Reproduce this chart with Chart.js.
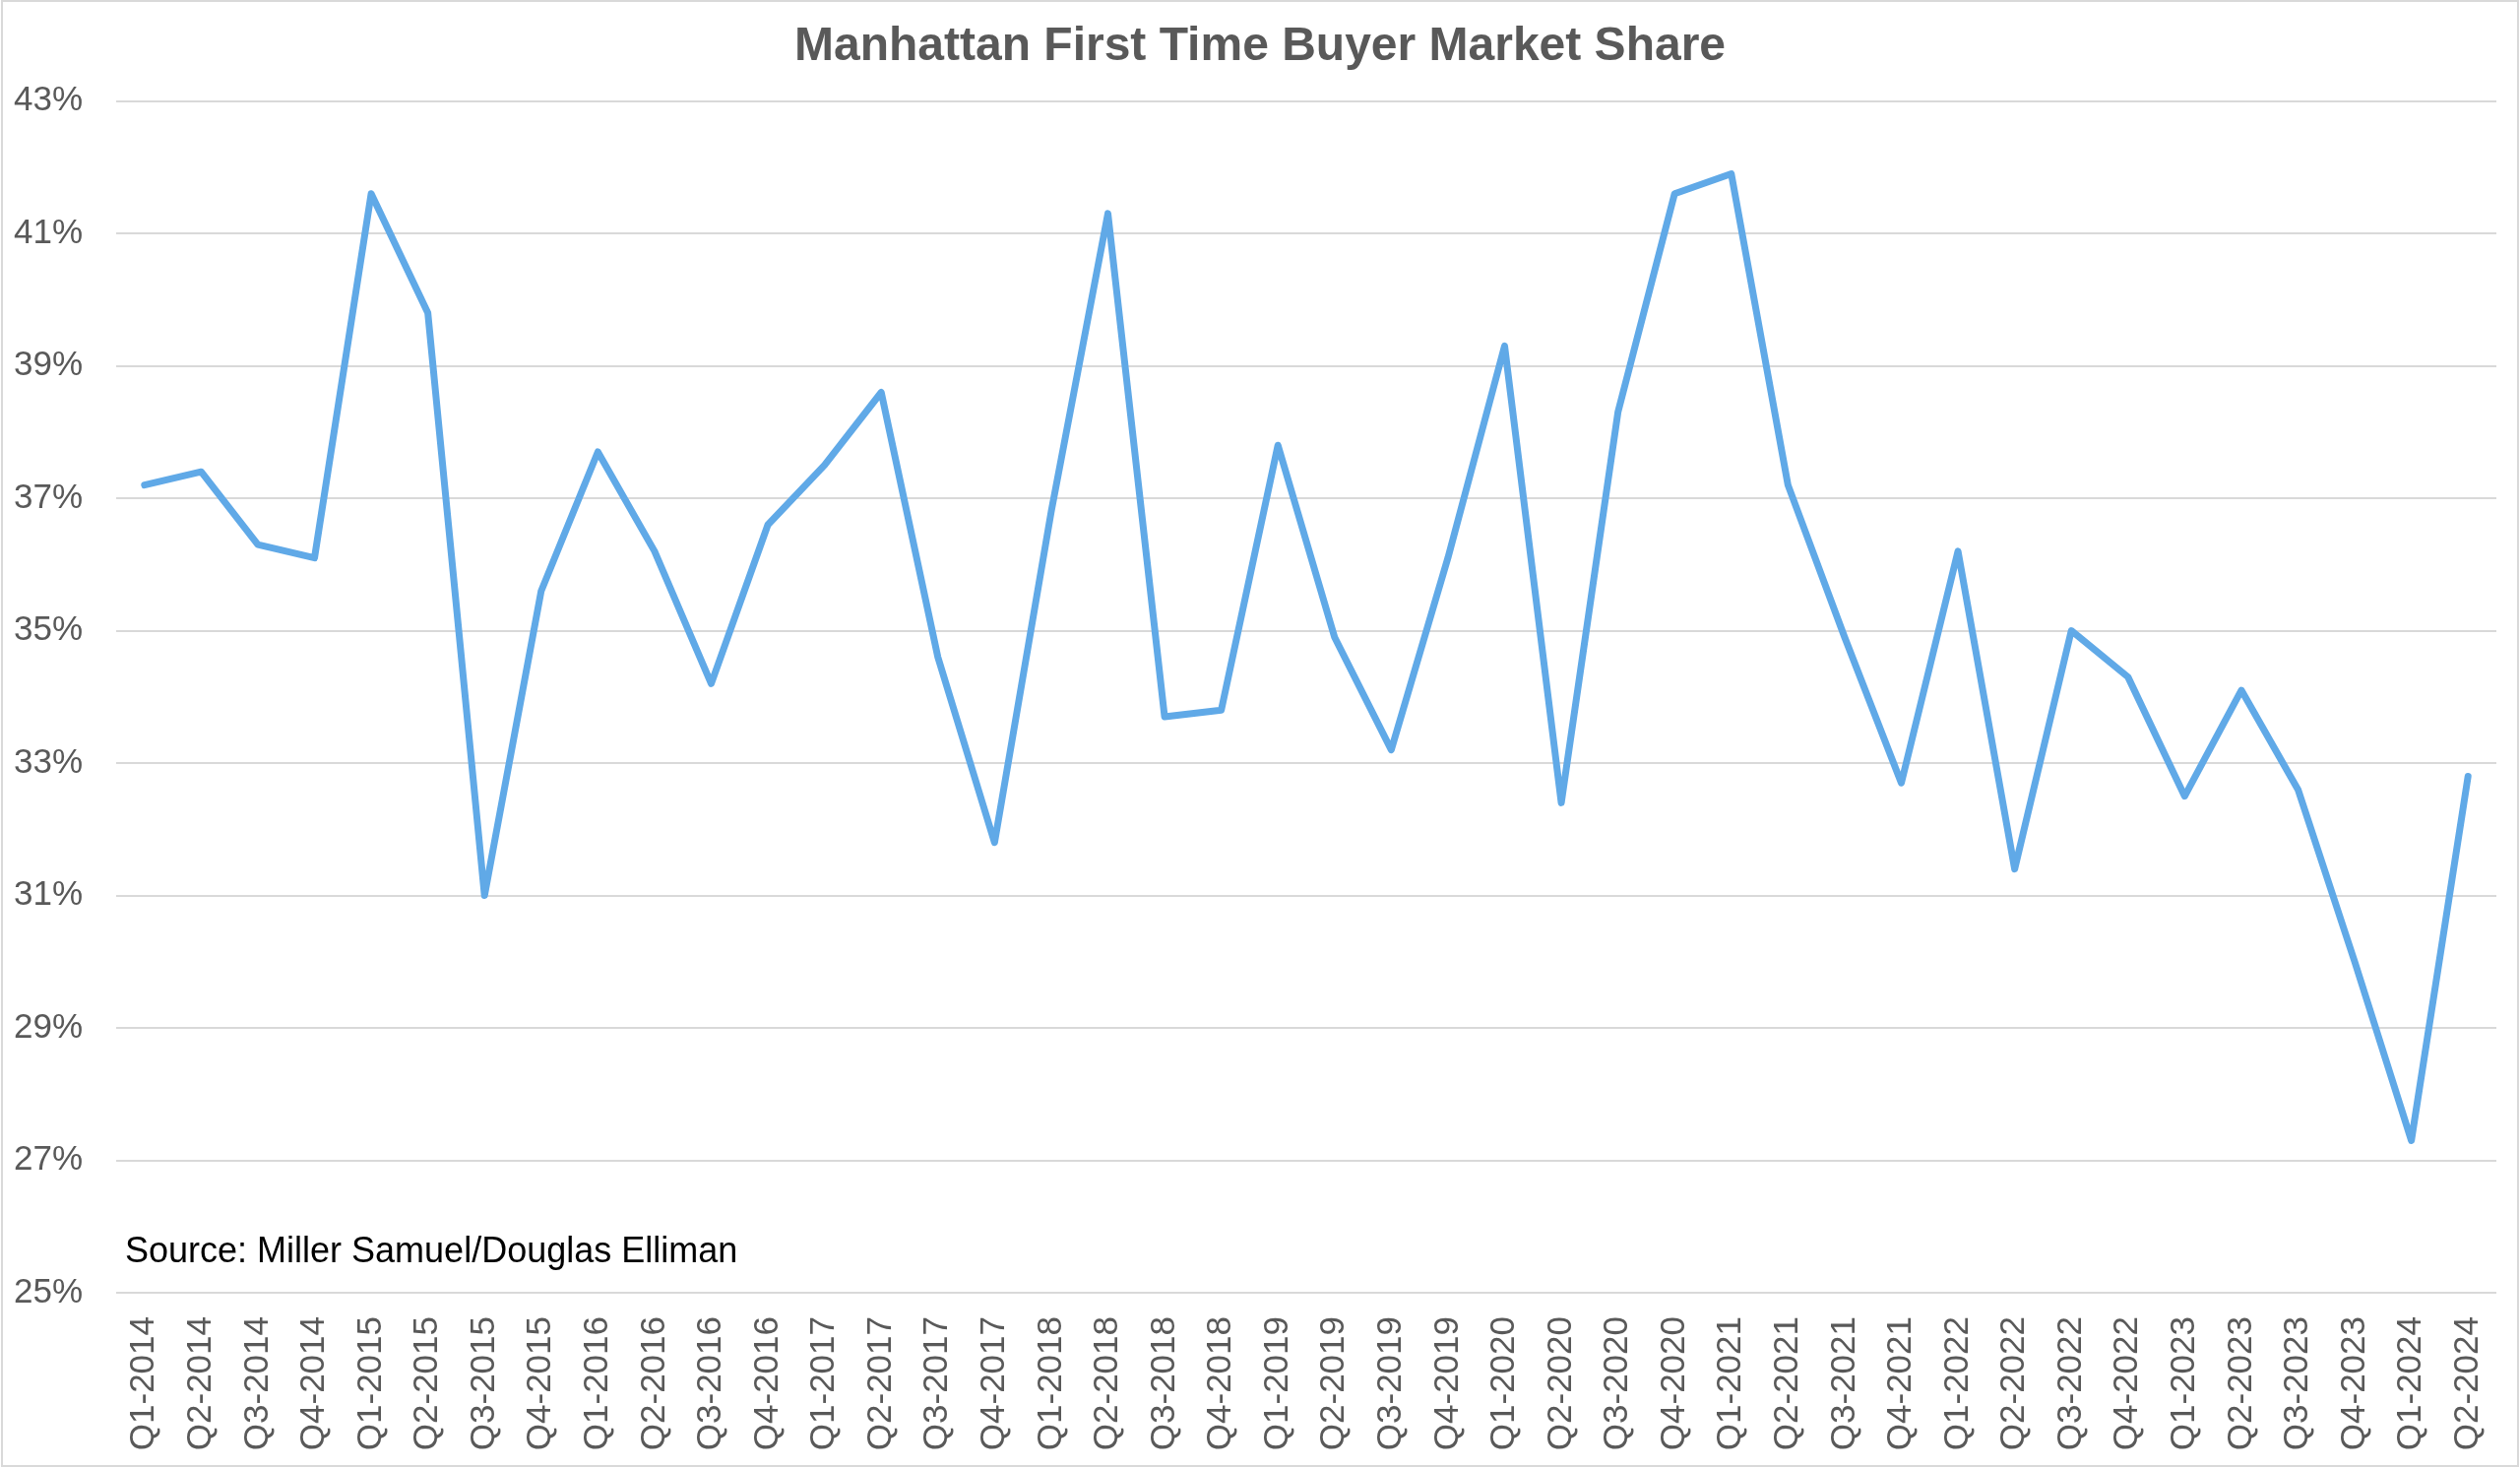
<!DOCTYPE html>
<html>
<head>
<meta charset="utf-8">
<style>
  html, body { margin: 0; padding: 0; background: #ffffff; }
  #wrap { width: 2560px; height: 1491px; position: relative; }
  canvas { display: block; }
</style>
<script src="https://cdn.jsdelivr.net/npm/chart.js@4/dist/chart.umd.min.js"></script>
</head>
<body>
<div id="wrap"><canvas id="c" width="2560" height="1491"></canvas></div>
<script>
const chartTitle = 'Manhattan First Time Buyer Market Share';
const sourceNote = 'Source: Miller Samuel/Douglas Elliman';

const quarters = [
  'Q1-2014','Q2-2014','Q3-2014','Q4-2014',
  'Q1-2015','Q2-2015','Q3-2015','Q4-2015',
  'Q1-2016','Q2-2016','Q3-2016','Q4-2016',
  'Q1-2017','Q2-2017','Q3-2017','Q4-2017',
  'Q1-2018','Q2-2018','Q3-2018','Q4-2018',
  'Q1-2019','Q2-2019','Q3-2019','Q4-2019',
  'Q1-2020','Q2-2020','Q3-2020','Q4-2020',
  'Q1-2021','Q2-2021','Q3-2021','Q4-2021',
  'Q1-2022','Q2-2022','Q3-2022','Q4-2022',
  'Q1-2023','Q2-2023','Q3-2023','Q4-2023',
  'Q1-2024','Q2-2024'
];

const firstTimeBuyerShare = [
  37.2, 37.4, 36.3, 36.1,
  41.6, 39.8, 31.0, 35.6,
  37.7, 36.2, 34.2, 36.6,
  37.5, 38.6, 34.6, 31.8,
  36.8, 41.3, 33.7, 33.8,
  37.8, 34.9, 33.2, 36.1,
  39.3, 32.4, 38.3, 41.6,
  41.9, 37.2, 34.9, 32.7,
  36.2, 31.4, 35.0, 34.3,
  32.5, 34.1, 32.6, 30.0,
  27.3, 32.8
];

const yMin = 25, yMax = 43, yStep = 2;

const extrasPlugin = {
  id: 'extras',
  afterDraw(chart) {
    const ctx = chart.ctx;
    const area = chart.chartArea;
    const ys = chart.scales.y;
    ctx.save();
    // source note
    ctx.font = '36px "Liberation Sans", Arial, sans-serif';
    ctx.fillStyle = '#000000';
    ctx.textAlign = 'left';
    ctx.textBaseline = 'alphabetic';
    ctx.fillText(sourceNote, area.left + 9, ys.getPixelForValue(yMin) - 31);
    // outer frame
    ctx.strokeStyle = '#d9d9d9';
    ctx.lineWidth = 2;
    ctx.strokeRect(2, 1, chart.width - 4, chart.height - 3);
    ctx.restore();
  }
};

new Chart(document.getElementById('c'), {
  type: 'line',
  data: {
    labels: quarters,
    datasets: [{
      data: firstTimeBuyerShare,
      borderColor: '#60A9E7',
      backgroundColor: '#60A9E7',
      borderWidth: 7,
      tension: 0,
      pointRadius: 0,
      pointHoverRadius: 0,
      borderCapStyle: 'round',
      borderJoinStyle: 'round',
      fill: false
    }]
  },
  options: {
    responsive: false,
    devicePixelRatio: 1,
    animation: false,
    layout: { padding: 0 },
    plugins: {
      legend: { display: false },
      tooltip: { enabled: false },
      title: {
        display: true,
        text: chartTitle,
        color: '#595959',
        font: { family: '"Liberation Sans", Arial, sans-serif', size: 48, weight: 'bold', lineHeight: 1.2 },
        padding: { top: 19, bottom: 26 }
      }
    },
    scales: {
      x: {
        type: 'category',
        offset: true,
        grid: { display: false, drawTicks: false },
        border: { display: false },
        ticks: {
          autoSkip: false,
          maxRotation: 90,
          minRotation: 90,
          padding: 24,
          color: '#595959',
          font: { family: '"Liberation Sans", Arial, sans-serif', size: 35 }
        },
        afterFit(scale) {
          scale.height = 178;
          scale.paddingLeft = 0;
          scale.paddingRight = 24;
        }
      },
      y: {
        min: yMin,
        max: yMax,
        grid: { color: '#d9d9d9', lineWidth: 2, drawTicks: false },
        border: { display: false },
        ticks: {
          stepSize: yStep,
          padding: 34,
          color: '#595959',
          font: { family: '"Liberation Sans", Arial, sans-serif', size: 35 },
          callback: (v) => v + '%'
        },
        afterFit(scale) { scale.width = 118; }
      }
    }
  },
  plugins: [extrasPlugin]
});
</script>
</body>
</html>
